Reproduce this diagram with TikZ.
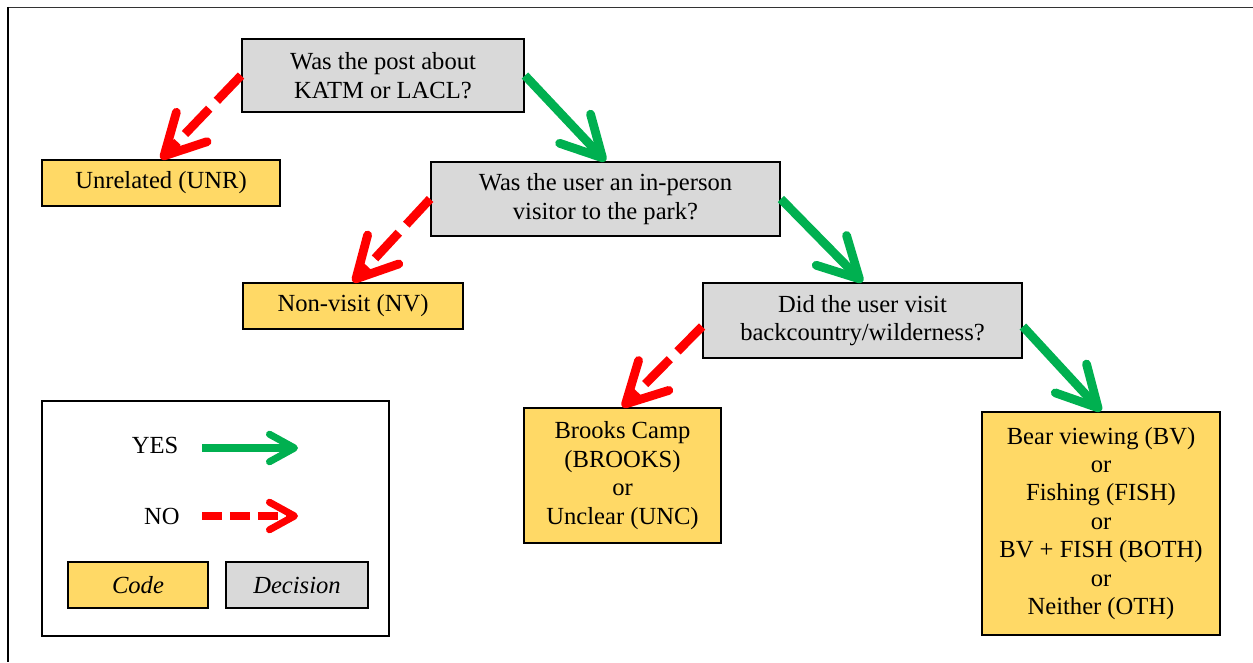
\documentclass[tikz,border=0pt]{standalone}
\usepackage{fontspec}
\setmainfont{Liberation Serif}
\usetikzlibrary{arrows.meta}
\definecolor{codeyellow}{HTML}{FFD966}
\definecolor{decgray}{HTML}{D9D9D9}
\definecolor{yesgreen}{HTML}{00B050}
\definecolor{nored}{HTML}{FF0000}
\begin{document}
\begin{tikzpicture}[x=0.02cm, y=-0.02cm, font=\fontsize{14}{16.2}\selectfont,
box/.style={draw, line width=1.1pt, align=center, inner sep=0pt},
decision/.style={box, fill=decgray},
code/.style={box, fill=codeyellow},
yesarrow/.style={yesgreen, line width=5pt, -{Straight Barb[length=0.8cm, width=0.85cm, round]}},
noarrow/.style={nored, line width=5pt, dash pattern=on 0.7cm off 0.22cm, -{Straight Barb[length=0.8cm, width=0.85cm, round]}},
yeskey/.style={yesgreen, line width=4pt, -{Straight Barb[length=0.5cm, width=0.55cm, round]}},
nokey/.style={nored, line width=4pt, dash pattern=on 0.4cm off 0.16cm, -{Straight Barb[length=0.5cm, width=0.55cm, round]}}]
\useasboundingbox (0,0) rectangle (1253,662);
\draw[line width=0.5pt, black!80] (8,7) -- (1253,7);
\draw[line width=1.1pt] (8,7) -- (8,662);
\node[decision, minimum width=5.64cm, minimum height=1.46cm] (post) at (383,75.5) {Was the post about\\KATM or LACL?};
\node[code, minimum width=4.76cm, minimum height=0.92cm] (unr) at (161,183) {Unrelated (UNR)};
\node[decision, minimum width=6.98cm, minimum height=1.48cm] (visitor) at (605.5,199) {Was the user an in-person\\visitor to the park?};
\node[code, minimum width=4.40cm, minimum height=0.92cm] (nv) at (353,306) {Non-visit (NV)};
\node[decision, minimum width=6.38cm, minimum height=1.50cm] (backc) at (862.5,320.5) {Did the user visit\\backcountry/wilderness?};
\node[code, minimum width=3.94cm, minimum height=2.70cm] (brooks) at (622.5,475.5) {Brooks Camp\\(BROOKS)\\or\\Unclear (UNC)};
\node[code, minimum width=4.76cm, minimum height=4.46cm] (oth) at (1101,523.5) {Bear viewing (BV)\\or\\Fishing (FISH)\\or\\BV + FISH (BOTH)\\or\\Neither (OTH)};
\draw[noarrow] (post.west) -- (unr.north);
\draw[yesarrow] (post.east) -- (visitor.north);
\draw[noarrow] (visitor.west) -- (nv.north);
\draw[yesarrow] (visitor.east) -- (backc.north);
\draw[noarrow] ([yshift=-0.12cm]backc.west) -- (brooks.north);
\draw[yesarrow] ([yshift=-0.12cm]backc.east) -- (oth.north);
\node[draw, line width=1.3pt, minimum width=6.94cm, minimum height=4.70cm] (legend) at (215.5,518.5) {};
\node (yes) at (155,445) {YES};
\node (no) at (162,516) {NO};
\coordinate (yesa) at (202,448); \coordinate (yesb) at (298,448);
\coordinate (noa) at (202,516); \coordinate (nob) at (298,516);
\draw[yeskey] (yesa) -- (yesb);
\draw[nokey] (noa) -- (nob);
\node[code, minimum width=2.80cm, minimum height=0.92cm] (codekey) at (138,585) {\itshape Code};
\node[decision, minimum width=2.84cm, minimum height=0.92cm] (deckey) at (297,585) {\itshape Decision};
\end{tikzpicture}
\end{document}
